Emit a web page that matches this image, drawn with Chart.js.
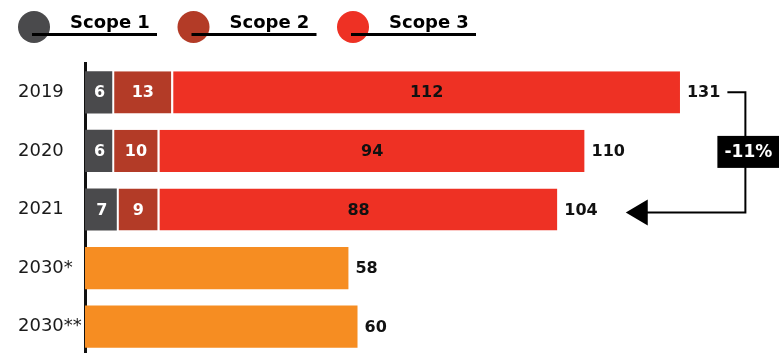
<!DOCTYPE html>
<html>
<head>
<meta charset="utf-8">
<script src="https://cdn.jsdelivr.net/npm/chart.js@4.4.1/dist/chart.umd.min.js"></script>
<style>
  html, body { margin: 0; padding: 0; background: #fff; overflow: hidden; }
  #wrap { position: relative; width: 779px; height: 356px; }
</style>
</head>
<body>
<div id="wrap"><canvas id="chart"></canvas></div>
<script>
// ── Data ─────────────────────────────────────────────
const categories   = ['2019', '2020', '2021', '2030*', '2030**'];
const scope1       = [6, 6, 7, null, null];
const scope2       = [13, 10, 9, null, null];
const scope3       = [112, 94, 88, null, null];
const target2030   = [null, null, null, 58, 60];
const totals       = [131, 110, 104, 58, 60];
const legendLabels = ['Scope 1', 'Scope 2', 'Scope 3'];
const changeLabel  = '-11%';

// ── Style ────────────────────────────────────────────
const C_SCOPE1 = '#4a4a4c';
const C_SCOPE2 = '#b33b27';
const C_SCOPE3 = '#ee3124';
const C_TARGET = '#f68d22';
const FONT     = '"DejaVu Sans", sans-serif';

const gapBorder = { left: 2, right: 0, top: 0, bottom: 0 };

// Segment values + totals on the bars
const barLabels = {
  id: 'barLabels',
  afterDatasetsDraw(chart) {
    const ctx = chart.ctx;
    ctx.save();
    ctx.font = 'bold 16px ' + FONT;
    ctx.textBaseline = 'middle';
    // inner labels (scope segments only)
    [0, 1, 2].forEach(di => {
      const meta = chart.getDatasetMeta(di);
      const vals = chart.data.datasets[di].data;
      meta.data.forEach((bar, i) => {
        if (vals[i] == null) return;
        ctx.fillStyle = di === 2 ? '#111' : '#fff';
        ctx.textAlign = 'center';
        ctx.fillText(vals[i], (bar.base + bar.x) / 2 + 1, bar.y + 1);
      });
    });
    // totals right of each bar
    categories.forEach((c, i) => {
      let end = null, y = null;
      chart.data.datasets.forEach((ds, di) => {
        if (ds.data[i] == null) return;
        const bar = chart.getDatasetMeta(di).data[i];
        end = bar.x; y = bar.y;
      });
      ctx.fillStyle = '#111';
      ctx.textAlign = 'left';
      ctx.fillText(totals[i], end + 7, y + 1);
    });
    ctx.restore();
  }
};

// -11% bracket from 2019 total down to 2021 total
const changeBracket = {
  id: 'changeBracket',
  afterDatasetsDraw(chart) {
    const ctx = chart.ctx;
    const meta = chart.getDatasetMeta(2);
    const top = meta.data[0], bot = meta.data[2], mid = meta.data[1];
    ctx.save();
    ctx.font = 'bold 16px ' + FONT;
    const topEnd = top.x + 7 + ctx.measureText(String(totals[0])).width;
    const botEnd = bot.x + 7 + ctx.measureText(String(totals[2])).width;
    const vx = topEnd + 25;
    const y1 = top.y, y2 = bot.y + 3;
    const tipX = botEnd + 28;

    ctx.strokeStyle = '#000';
    ctx.lineWidth = 2;
    ctx.beginPath();
    ctx.moveTo(topEnd + 7, y1);
    ctx.lineTo(vx, y1);
    ctx.lineTo(vx, y2);
    ctx.lineTo(tipX + 20, y2);
    ctx.stroke();

    ctx.fillStyle = '#000';
    ctx.beginPath();
    ctx.moveTo(tipX, y2);
    ctx.lineTo(tipX + 22, y2 - 13);
    ctx.lineTo(tipX + 22, y2 + 13);
    ctx.closePath();
    ctx.fill();

    ctx.fillRect(vx - 28, mid.y - 15, 62, 32);
    ctx.fillStyle = '#fff';
    ctx.font = 'bold 17px ' + FONT;
    ctx.textAlign = 'center';
    ctx.textBaseline = 'middle';
    ctx.fillText(changeLabel, vx + 3, mid.y + 2);
    ctx.restore();
  }
};

// Circle + underlined legend across the top
const topLegend = {
  id: 'topLegend',
  afterDraw(chart) {
    const ctx = chart.ctx;
    const colors = [C_SCOPE1, C_SCOPE2, C_SCOPE3];
    ctx.save();
    legendLabels.forEach((lab, i) => {
      const x0 = 34 + i * 159.5;
      ctx.fillStyle = colors[i];
      ctx.beginPath();
      ctx.arc(x0, 27, 16, 0, Math.PI * 2);
      ctx.fill();
      ctx.fillStyle = '#000';
      ctx.fillRect(x0 - 2, 33, 125, 3);
      ctx.font = 'bold 18px ' + FONT;
      ctx.textAlign = 'left';
      ctx.textBaseline = 'alphabetic';
      ctx.fillText(lab, x0 + 36, 28);
    });
    ctx.restore();
  }
};

new Chart(document.getElementById('chart'), {
  type: 'bar',
  data: {
    labels: categories,
    datasets: [
      { label: 'Scope 1', data: scope1, backgroundColor: C_SCOPE1, borderWidth: 0 },
      { label: 'Scope 2', data: scope2, backgroundColor: C_SCOPE2,
        borderColor: '#fff', borderWidth: gapBorder, borderSkipped: false },
      { label: 'Scope 3', data: scope3, backgroundColor: C_SCOPE3,
        borderColor: '#fff', borderWidth: gapBorder, borderSkipped: false },
      { label: '2030', data: target2030, backgroundColor: C_TARGET, borderWidth: 0 },
    ]
  },
  options: {
    indexAxis: 'y',
    responsive: true, maintainAspectRatio: false,
    animation: false,
    layout: { padding: { top: 63, right: 0, bottom: 0, left: 18 } },
    datasets: { bar: { categoryPercentage: 0.72, barPercentage: 1 } },
    plugins: { legend: { display: false }, tooltip: { enabled: false } },
    scales: {
      x: { stacked: true, min: 0, max: 152.8, display: false },
      y: {
        stacked: true,
        // fixed axis width, no extra label padding above/below
        afterFit: axis => { axis.width = 67; axis.paddingTop = 0; axis.paddingBottom = 0; },
        grid: { display: false, drawTicks: false },
        border: { display: true, color: '#111', width: 3 },
        ticks: { color: '#1a1a1a', crossAlign: 'far', font: { family: FONT, size: 18 } }
      }
    }
  },
  plugins: [barLabels, changeBracket, topLegend]
});
</script>
</body>
</html>
